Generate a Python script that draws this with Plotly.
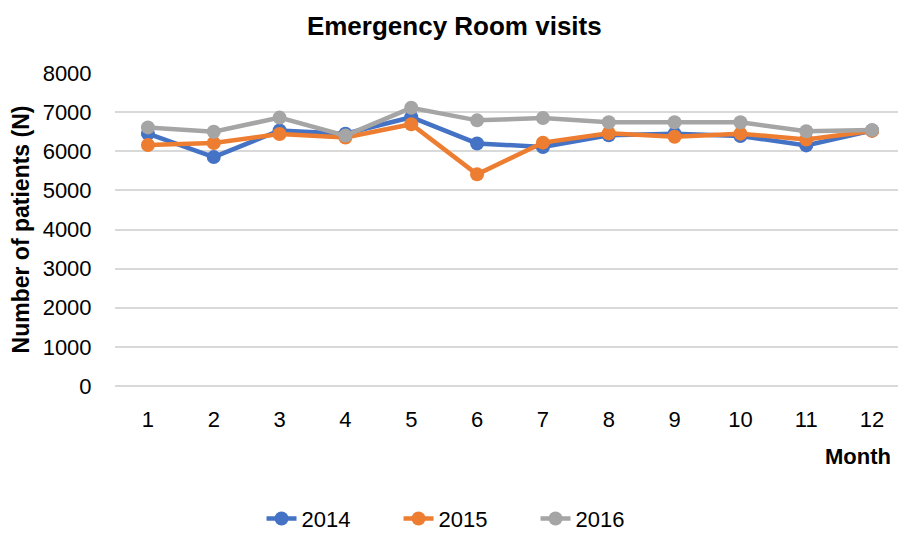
import plotly.graph_objs as go

months = list(range(1, 13))
visits_2014 = [6450, 5850, 6530, 6450, 6870, 6200, 6110, 6410, 6450, 6390, 6150, 6530]
visits_2015 = [6160, 6210, 6440, 6350, 6690, 5410, 6220, 6460, 6370, 6450, 6300, 6520]
visits_2016 = [6610, 6500, 6860, 6400, 7110, 6790, 6850, 6740, 6740, 6740, 6510, 6540]

series = [('2014', visits_2014, '#4472C4'),
          ('2015', visits_2015, '#ED7D31'),
          ('2016', visits_2016, '#A5A5A5')]

fig = go.Figure()
for name, vals, col in series:
    fig.add_trace(go.Scatter(x=months, y=vals, name=name, mode='lines+markers',
                             line=dict(color=col, width=4.5),
                             marker=dict(color=col, size=14)))

# page body has an 8px margin, so the figure is sized to fit the window
fig.update_layout(
    width=898, height=533,
    paper_bgcolor='white', plot_bgcolor='white',
    margin=dict(l=107, r=1, t=65, b=150),
    font=dict(family='Liberation Sans, Arial', size=22, color='black'),
    title=dict(text='<b>Emergency Room visits</b>', x=0.497, xanchor='center',
               y=1 - 18 / 533, yanchor='middle', font=dict(size=26)),
    xaxis=dict(range=[0.5, 12.5], tickmode='array', tickvals=months,
               showgrid=False, zeroline=False, showline=False,
               ticks='outside', ticklen=14, tickcolor='rgba(0,0,0,0)'),
    yaxis=dict(range=[0, 8000], dtick=1000, showgrid=True, gridcolor='#D9D9D9',
               gridwidth=2, zeroline=True, zerolinecolor='#D9D9D9', zerolinewidth=2,
               showline=False, ticks='outside', ticklen=18, tickcolor='rgba(0,0,0,0)',
               title=dict(text='<b>Number of patients (N)</b>', standoff=8,
                          font=dict(size=23))),
    legend=dict(orientation='h', x=0.4456, xanchor='center', y=-0.424, yanchor='middle',
                font=dict(size=22), entrywidth=92, entrywidthmode='pixels'),
    annotations=[dict(text='<b>Month</b>', x=0.985, xref='paper', xanchor='right',
                      y=-0.224, yref='paper', yanchor='middle', showarrow=False,
                      font=dict(size=22))],
)

fig.write_html("out.html")
